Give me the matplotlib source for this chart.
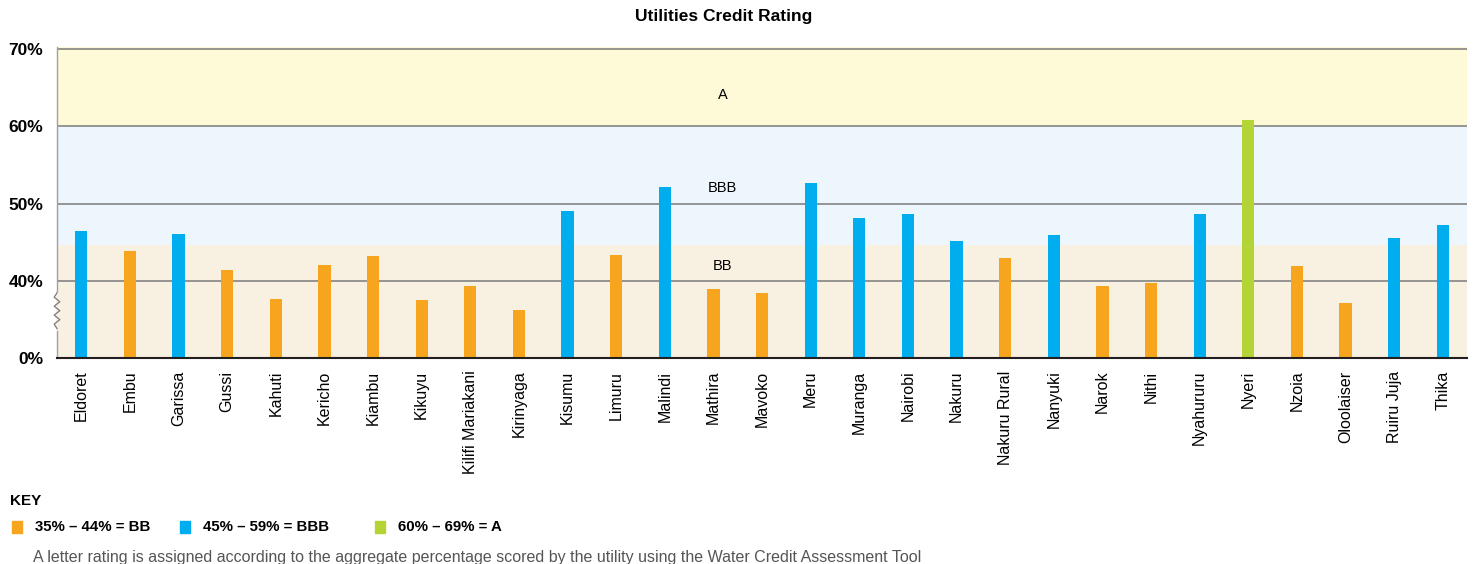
import numpy as np
import matplotlib.pyplot as plt
from matplotlib.patches import Rectangle

plt.rcParams["font.family"] = ["Liberation Sans", "DejaVu Sans"]

# -----------------------------------------------------------------
# Datos
# -----------------------------------------------------------------
utilities = [
    "Eldoret", "Embu", "Garissa", "Gussi", "Kahuti", "Kericho", "Kiambu",
    "Kikuyu", "Kilifi Mariakani", "Kirinyaga", "Kisumu", "Limuru", "Malindi",
    "Mathira", "Mavoko", "Meru", "Muranga", "Nairobi", "Nakuru",
    "Nakuru Rural", "Nanyuki", "Narok", "Nithi", "Nyahururu", "Nyeri",
    "Nzoia", "Oloolaiser", "Ruiru Juja", "Thika",
]
scores = [
    46.4, 43.9, 46.1, 41.4, 37.6, 42.1, 43.2,
    37.5, 39.4, 36.2, 49.1, 43.3, 52.1,
    38.9, 38.4, 52.7, 48.1, 48.6, 45.1,
    42.9, 46.0, 39.3, 39.7, 48.6, 60.8,
    41.9, 37.1, 45.6, 47.2,
]

rating_colors = {"BB": "#F7A51E", "BBB": "#00ADEE", "A": "#B4D334"}
band_colors = {"BB": "#F8F1E1", "BBB": "#EEF6FD", "A": "#FEF9D6"}
band_limits = {"BB": (30, 44.6), "BBB": (44.6, 60), "A": (60, 70.3)}
band_label_y = {"BB": 41.9, "BBB": 52.0, "A": 64.1}

tick_values = [30, 40, 50, 60, 70]
tick_labels = ["0%", "40%", "50%", "60%", "70%"]

key_items = [
    ("BB", "35% – 44% = BB"),
    ("BBB", "45% – 59% = BBB"),
    ("A", "60% – 69% = A"),
]


def rating(v):
    if v >= 60:
        return "A"
    if v >= 45:
        return "BBB"
    return "BB"


# -----------------------------------------------------------------
# Figura
# -----------------------------------------------------------------
fig = plt.figure(figsize=(14.73, 5.64), dpi=100)
ax = fig.add_axes([0.0387, 0.365, 0.9573, 0.552])

x = np.arange(len(utilities))
for name, (lo, hi) in band_limits.items():
    ax.axhspan(lo, hi, color=band_colors[name], zorder=0, lw=0)
    ax.text(0.472, band_label_y[name], name, transform=ax.get_yaxis_transform(),
            ha="center", va="center", fontsize=10.5, zorder=3)

for yv in [40, 50, 60, 70]:
    ax.axhline(yv, color="#7A7A7A", lw=1.1, zorder=1)

colors = [rating_colors[rating(v)] for v in scores]
# barras desde la base "30" (0% con eje cortado)
ax.bar(x, np.array(scores) - 30, bottom=30, width=0.25, color=colors, zorder=2)

ax.set_xlim(-0.5, len(utilities) - 0.5)
ax.set_ylim(30, 70.3)
ax.set_yticks(tick_values)
ax.set_yticklabels(tick_labels, fontsize=12.5, fontweight="bold")
ax.set_xticks(x)
ax.set_xticklabels(utilities, rotation=90, fontsize=11.5, va="top")
ax.tick_params(axis="both", length=0)
ax.tick_params(axis="x", pad=9)
ax.tick_params(axis="y", pad=10)

for s in ["top", "right"]:
    ax.spines[s].set_visible(False)
ax.spines["bottom"].set_color("#231F20")
ax.spines["bottom"].set_linewidth(1.5)
ax.spines["left"].set_color("#A0A0A0")
ax.spines["left"].set_linewidth(1.0)

# marca de eje cortado
zz_y = np.linspace(0.095, 0.21, 9)
zz_x = np.array([0, -0.002, 0.002, -0.002, 0.002, -0.002, 0.002, -0.002, 0])
ax.plot([0, 0], [0.095, 0.21], transform=ax.transAxes, color=band_colors["BB"],
        lw=2, clip_on=False, zorder=4)
ax.plot(zz_x, zz_y, transform=ax.transAxes, color="#7A7A7A", lw=0.9,
        clip_on=False, zorder=5)

fig.text(0.4915, 0.97, "Utilities Credit Rating", ha="center", va="center",
         fontsize=12.5, fontweight="bold")

# -----------------------------------------------------------------
# Leyenda (KEY)
# -----------------------------------------------------------------
fig.text(0.0068, 0.112, "KEY", fontsize=11, fontweight="bold", va="center")
key_x = [0.0081, 0.1222, 0.2546]
for (name, label), kx in zip(key_items, key_x):
    fig.patches.append(Rectangle((kx, 0.055), 0.0068, 0.021, transform=fig.transFigure,
                                 color=rating_colors[name]))
    fig.text(kx + 0.0155, 0.066, label, fontsize=10.8, fontweight="bold", va="center")

fig.text(0.0224, 0.011,
         "A letter rating is assigned according to the aggregate percentage scored by the utility using the Water Credit Assessment Tool",
         fontsize=11.5, color="#555555", va="center")

plt.savefig("out.png", dpi=100)
